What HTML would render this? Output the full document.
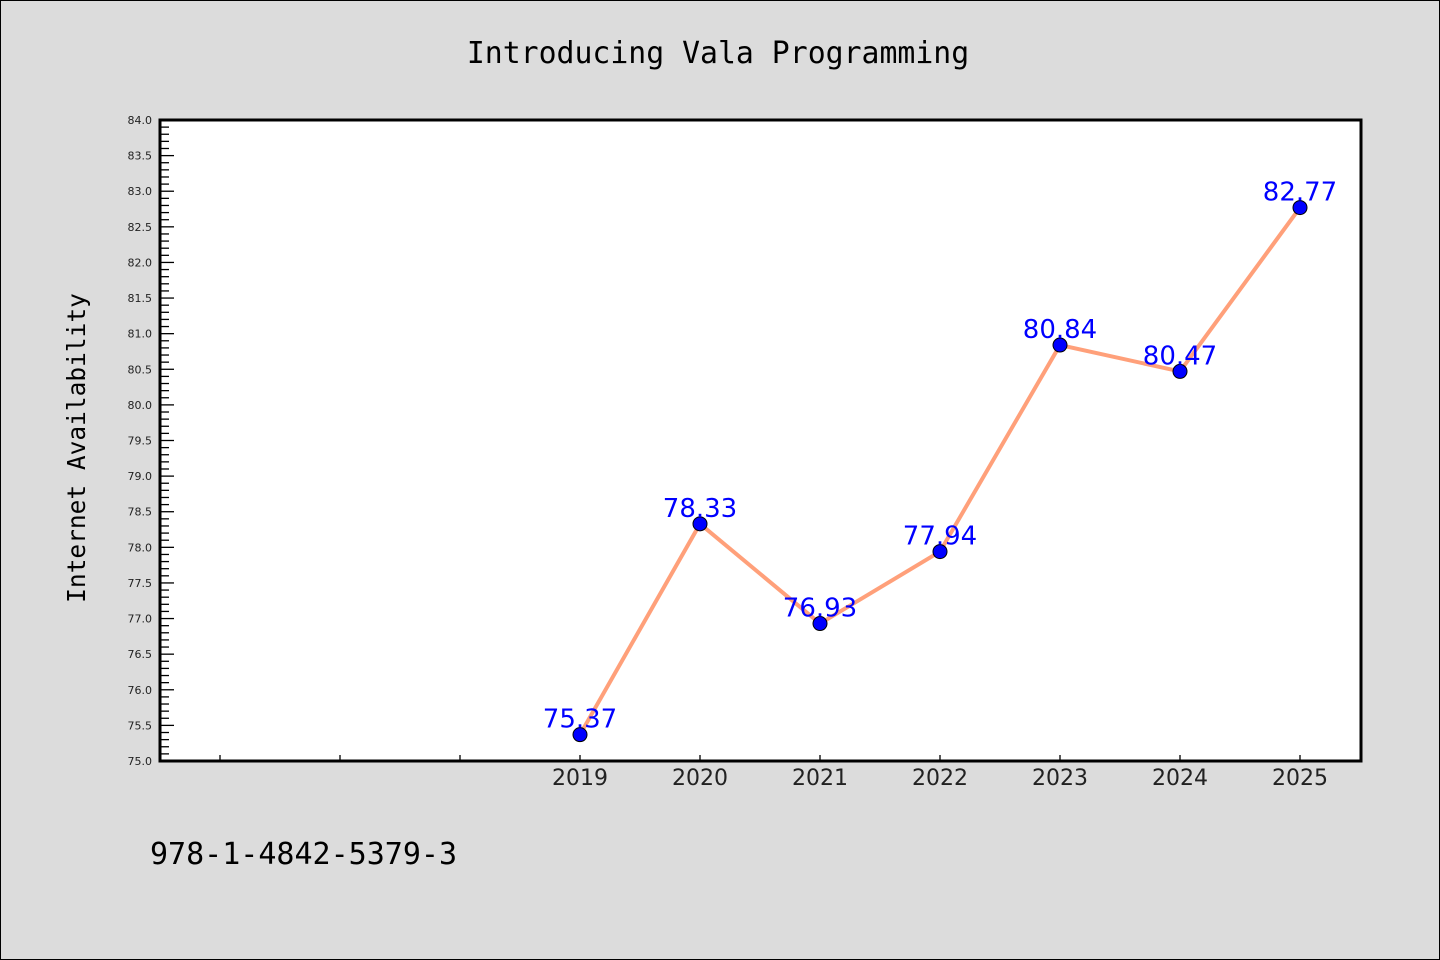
<!DOCTYPE html>
<html><head><meta charset="utf-8"><style>
html,body{margin:0;padding:0;background:#dcdcdc;}
svg{display:block;font-family:"Liberation Mono","DejaVu Sans Mono",monospace;}
</style></head><body>
<svg id="chart" width="1440" height="960" viewBox="0 0 1440 960" xmlns="http://www.w3.org/2000/svg">
<rect x="0.5" y="0.5" width="1439" height="959" fill="#dcdcdc" stroke="#000" stroke-width="1"/>
<text x="718" y="63" text-anchor="middle" font-size="29.8" fill="#000" font-family="'DejaVu Sans Mono',monospace">Introducing Vala Programming</text>
<rect x="160" y="120" width="1201" height="641" fill="#fff"/>
<g id="yaxis"></g>
<g id="xaxis"></g>
<text transform="translate(85,448) rotate(-90)" text-anchor="middle" font-size="24.5" fill="#000" font-family="'DejaVu Sans Mono',monospace">Internet Availability</text>
<g id="series"></g>
<rect x="160" y="120" width="1201" height="641" fill="none" stroke="#000" stroke-width="3"/>
<text x="150" y="864" font-size="30" fill="#000" font-family="'DejaVu Sans Mono',monospace">978-1-4842-5379-3</text>
</svg>
<script>
const years = [2019, 2020, 2021, 2022, 2023, 2024, 2025];
const values = [75.37, 78.33, 76.93, 77.94, 80.84, 80.47, 82.77];
const labels = ["75.37", "78.33", "76.93", "77.94", "80.84", "80.47", "82.77"];
const yTicks = ["75.0","75.5","76.0","76.5","77.0","77.5","78.0","78.5","79.0","79.5","80.0","80.5","81.0","81.5","82.0","82.5","83.0","83.5","84.0"];
const emptyXTicks = [2016, 2017, 2018];

const NS = "http://www.w3.org/2000/svg";
const yMin = 75, yMax = 84, yTop = 120, yBot = 761;
const xPos = v => 580 + (v - 2019) * 120;
const yPos = v => yBot - (v - yMin) / (yMax - yMin) * (yBot - yTop);
function mk(tag, attrs, parent) { const e = document.createElementNS(NS, tag); for (const k in attrs) e.setAttribute(k, attrs[k]); parent.appendChild(e); return e; }

const ya = document.getElementById('yaxis');
for (let i = 0; i <= 90; i++) {
  const v = yMin + i * 0.1; const y = yPos(v);
  const major = i % 5 === 0;
  const t = mk('line', {x1:160, x2:160 + (major ? 14 : 9), y1:y, y2:y, stroke:'#000', 'stroke-width':1.3}, ya);
  
  
}
yTicks.forEach(s => {
  const t = mk('text', {x:152, y:yPos(parseFloat(s)) + 4, 'text-anchor':'end', 'font-size':11, fill:'#222', 'font-family':'"DejaVu Sans",sans-serif'}, ya);
  t.textContent = s;
  
  
});
const xa = document.getElementById('xaxis');
emptyXTicks.concat(years).forEach(v => {
  const t = mk('line', {x1:xPos(v), x2:xPos(v), y1:yBot, y2:yBot - 6, stroke:'#000', 'stroke-width':1.3}, xa);
  
  
});
years.forEach(v => {
  const t = mk('text', {x:xPos(v), y:785, 'text-anchor':'middle', 'font-size':22, fill:'#222', 'font-family':'"DejaVu Sans",sans-serif'}, xa);
  t.textContent = String(v);
  
  
});
const sg = document.getElementById('series');
const line = mk('polyline', {points: years.map((y, i) => xPos(y) + ',' + yPos(values[i])).join(' '), fill:'none', stroke:'#ffa07a', 'stroke-width':4}, sg);


years.forEach((y, i) => {
  const c = mk('circle', {cx:xPos(y), cy:yPos(values[i]), r:7, fill:'#0000ff', stroke:'#000', 'stroke-width':1}, sg);
  
  
});
years.forEach((y, i) => {
  const t = mk('text', {x:xPos(y), y:yPos(values[i]) - 7, 'text-anchor':'middle', 'font-size':26, fill:'#0000ff', 'font-family':'"DejaVu Sans",sans-serif'}, sg);
  t.textContent = labels[i];
  
  
});
</script>
</body></html>
